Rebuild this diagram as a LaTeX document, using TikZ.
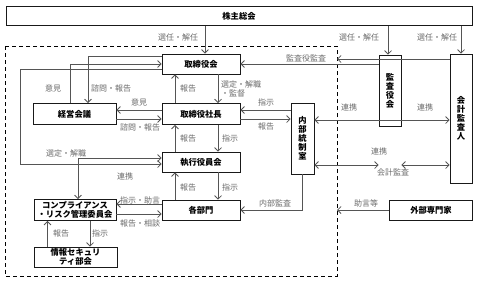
\documentclass[tikz,border=0pt]{standalone}
\usepackage{fontspec}
\setmainfont{Noto Sans CJK JP}
\usetikzlibrary{arrows.meta,calc}
\definecolor{lncol}{HTML}{555555}
\definecolor{lbcol}{HTML}{6A6A6A}
\tikzset{
  box/.style={draw=black!90, line width=0.9pt, fill=white, inner sep=0pt, align=center,
    font=\bfseries\fontsize{8.3}{9.5}\selectfont},
  vbox/.style={box, font=\bfseries\fontsize{8.3}{9}\selectfont},
  lab/.style={text=lbcol, inner sep=0pt, font=\fontsize{8}{9}\selectfont},
  ln/.style={draw=lncol, line width=0.75pt},
  arr/.style={ln, -{Straight Barb[length=3.5pt,width=7pt]}},
  arr2/.style={ln, {Straight Barb[length=3.5pt,width=7pt]}-{Straight Barb[length=3.5pt,width=7pt]}},
  dbox/.style={draw=black, line width=1pt, dash pattern=on 4pt off 3pt}
}
\begin{document}
\begin{tikzpicture}[x=1pt,y=-1pt]
\useasboundingbox (0,0) rectangle (478,282);
% dashed frame
\draw[dbox] (5,46) rectangle (337,276);
\coordinate (dashR) at (337,0);
\coordinate (loopx) at (20,0);
% boxes
\node[box, minimum width=466pt, minimum height=19pt] (kabu) at (239,16) {株主総会};
\node[box, minimum width=78pt, minimum height=20pt] (tori) at (201,64) {取締役会};
\node[box, minimum width=83pt, minimum height=21pt] (keiei) at (74.5,114) {経営会議};
\node[box, minimum width=78pt, minimum height=21pt] (shacho) at (201,114) {取締役社長};
\node[box, minimum width=78pt, minimum height=20pt] (shikko) at (201,162) {執行役員会};
\node[box, minimum width=78pt, minimum height=20pt] (kakubu) at (201,210) {各部門};
\node[box, minimum width=82pt, minimum height=21pt] (comp) at (75,210) {コンプライアンス\\・リスク管理委員会};
\node[box, minimum width=83pt, minimum height=20pt] (joho) at (75.5,257) {情報セキュリ\\ティ部会};
\node[vbox, minimum width=23pt, minimum height=71pt] (naibu) at (302.5,138.5) {内\\部\\統\\制\\室};
\node[vbox, minimum width=22pt, minimum height=71pt] (kansa) at (390,90.5) {監\\査\\役\\会};
\node[vbox, minimum width=22pt, minimum height=129pt] (kaikei) at (461,118.5) {会\\計\\監\\査\\人};
\node[box, minimum width=83pt, minimum height=20pt] (gaibu) at (431,210) {外部専門家};
% shareholders
\draw[arr] ([xshift=4]tori.north |- kabu.south) -- ([xshift=4]tori.north);
\draw[arr] ([xshift=-2]kansa.north |- kabu.south) -- ([xshift=-2]kansa.north);
\draw[arr] (kaikei.north |- kabu.south) -- (kaikei.north);
\node[lab] at (178,37) {選任・解任};
\node[lab] at (359,37) {選任・解任};
\node[lab] at (437,37) {選任・解任};
% audit board -> board
\draw[arr] (kansa.west |- tori.east) -- (tori.east);
\node[lab] at (306,58) {監査役監査};
% outer loop
\draw[arr] ([yshift=-5]tori.west) -- ([yshift=-5]tori.west -| loopx) -- ([yshift=-2]shikko.west -| loopx) -- ([yshift=-2]shikko.west);
\node[lab] at (66,153) {選定・解職};
% management meeting <-> board
\draw[arr] ([xshift=-4]keiei.north) |- (tori.west);
\draw[arr] ([yshift=8]tori.west) -| ([xshift=13.5]keiei.north);
\node[lab] at (53,88) {意見};
\node[lab] at (111,88) {諮問・報告};
% management meeting <-> president
\draw[arr] ([yshift=-5]keiei.east) -- ([yshift=-5]keiei.east -| shacho.west);
\draw[arr] ([yshift=4]shacho.west) -- ([yshift=4]shacho.west -| keiei.east);
\node[lab] at (139,102) {意見};
\node[lab] at (140,127) {諮問・報告};
% vertical chain
\draw[arr] ([xshift=-26]shacho.north) -- ([xshift=-26]tori.south);
\draw[arr] ([xshift=17]tori.south) -- ([xshift=17]shacho.north);
\node[lab] at (188,88) {報告};
\node[lab, anchor=west] at (221,84) {選定・解職};
\node[lab, anchor=west] at (221,93) {・監督};
\draw[arr] ([xshift=-26]shikko.north) -- ([xshift=-26]shacho.south);
\draw[arr] ([xshift=17]shacho.south) -- ([xshift=17]shikko.north);
\node[lab] at (188,138) {報告};
\node[lab] at (230,138) {指示};
\draw[arr] ([xshift=-26]kakubu.north) -- ([xshift=-26]shikko.south);
\draw[arr] ([xshift=17]shikko.south) -- ([xshift=17]kakubu.north);
\node[lab] at (188,187) {報告};
\node[lab] at (230,187) {指示};
% president <-> internal control
\draw[arr] ([yshift=-5]shacho.east) -- ([yshift=-5]shacho.east -| naibu.west);
\draw[arr] ([yshift=4]shacho.east -| naibu.west) -- ([yshift=4]shacho.east);
\node[lab] at (266,102) {指示};
\node[lab] at (266,126) {報告};
% internal audit
\draw[arr] (naibu.south) |- (kakubu.east);
\node[lab] at (275,203) {内部監査};
% cooperation
\draw[arr2] ([yshift=-26.5]naibu.east) -- ([yshift=-26.5]naibu.east -| kansa.west);
\node[lab] at (349,107) {連携};
\draw[arr2] ([yshift=-26.5]naibu.east -| kansa.east) -- ([yshift=-26.5]naibu.east -| kaikei.west);
\node[lab] at (425,107) {連携};
\draw[arr2] ([yshift=18.5]naibu.east) -- ([yshift=18.5]naibu.east -| kaikei.west);
\node[lab] at (379,151) {連携};
\draw[arr] ([yshift=59.5]kaikei.west) -- ([yshift=59.5]kaikei.west -| dashR);
\node[lab] at (393,172) {会計監査};
\draw[arr] (gaibu.west) -- (gaibu.west -| dashR);
\node[lab] at (366,203) {助言等};
% compliance
\draw[arr2] ([yshift=4]shikko.west) -| ([xshift=3]comp.north);
\node[lab] at (125,176) {連携};
\draw[arr] ([yshift=-4]comp.east) -- ([yshift=-4]comp.east -| kakubu.west);
\draw[arr] ([yshift=6]kakubu.west) -- ([yshift=6]kakubu.west -| comp.east);
\node[lab] at (140,200) {指示・助言};
\node[lab] at (140,223) {報告・相談};
\draw[arr] ([xshift=-28]joho.north) -- ([xshift=-28]joho.north |- comp.south);
\draw[arr] ([xshift=15]comp.south) -- ([xshift=15]comp.south |- joho.north);
\node[lab] at (61,233) {報告};
\node[lab] at (100,233) {指示};
\end{tikzpicture}
\end{document}
